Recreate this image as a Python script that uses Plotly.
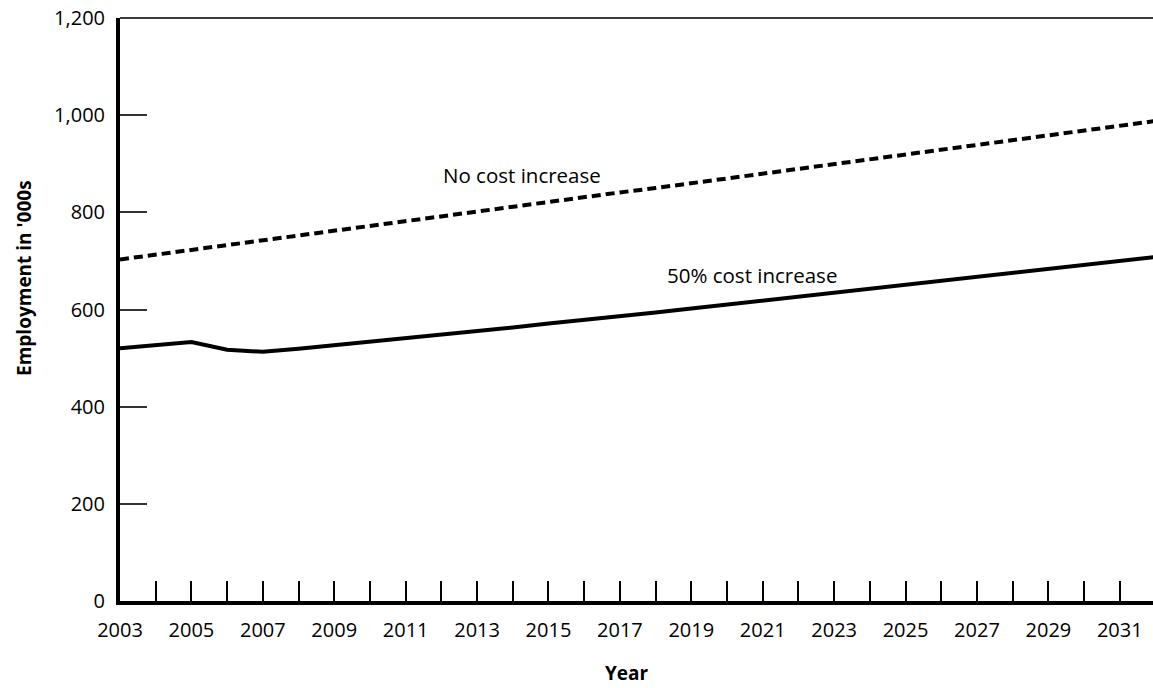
import plotly.graph_objects as go

years = list(range(2003, 2033))
no_cost_increase = [703, 713, 723, 732, 742, 752, 762, 772, 782, 791,
                    801, 811, 821, 831, 841, 850, 860, 870, 880, 890,
                    900, 909, 919, 929, 939, 949, 959, 968, 978, 988]
cost_increase_50 = [520, 527, 533, 517, 513, 519, 526, 533, 540, 548,
                    555, 563, 571, 578, 586, 594, 602, 610, 618, 626,
                    634, 642, 650, 658, 666, 675, 683, 691, 699, 708]

x_tick_vals = list(range(2003, 2032))
x_tick_text = [str(y) if (y - 2003) % 2 == 0 else "" for y in x_tick_vals]
y_tick_vals = [0, 200, 400, 600, 800, 1000, 1200]

FONT = "Open Sans"

fig = go.Figure()
fig.add_trace(go.Scatter(x=years, y=no_cost_increase, mode="lines",
                         line=dict(color="black", width=4, dash="9px,5px"),
                         name="No cost increase", showlegend=False))
fig.add_trace(go.Scatter(x=years, y=cost_increase_50, mode="lines",
                         line=dict(color="black", width=4),
                         name="50% cost increase", showlegend=False))

fig.add_annotation(x=2012, y=877, text="No cost increase", showarrow=False,
                   xanchor="left", yanchor="middle",
                   font=dict(family=FONT, size=20.5, color="black"))
fig.add_annotation(x=2018.27, y=671, text="50% cost increase", showarrow=False,
                   xanchor="left", yanchor="middle",
                   font=dict(family=FONT, size=20.5, color="black"))

# axis titles
fig.add_annotation(xref="paper", yref="paper", x=-0.093, y=0.554,
                   text="<b>Employment in '000s</b>", textangle=-90,
                   showarrow=False, xanchor="center", yanchor="middle",
                   font=dict(family=FONT, size=19, color="black"))
fig.add_annotation(xref="paper", yref="paper", x=0.491, y=-0.1235,
                   text="<b>Year</b>", showarrow=False, borderpad=0,
                   xanchor="center", yanchor="middle",
                   font=dict(family=FONT, size=19, color="black"))

fig.add_shape(type="line", xref="paper", yref="paper", x0=0, x1=1, y0=1, y1=1,
              line=dict(color="#3a3a3a", width=2))

fig.update_layout(
    width=1153, height=688,
    margin=dict(l=120, r=0, t=18, b=87),
    paper_bgcolor="white", plot_bgcolor="white",
    font=dict(family=FONT, size=20, color="black"),
    xaxis=dict(range=[2003, 2031.93], tickmode="array", tickvals=x_tick_vals,
               ticktext=x_tick_text, ticks="inside", ticklen=20, tickwidth=1.5,
               tickcolor="black", showline=True, linewidth=4, linecolor="black",
               showgrid=False, zeroline=False, ticklabelstandoff=8),
    yaxis=dict(range=[0, 1200], tickmode="array", tickvals=y_tick_vals,
               tickformat=",d", ticks="inside", ticklen=27, tickwidth=1.5,
               tickcolor="#333333", showline=True, linewidth=4, linecolor="black",
               showgrid=False, zeroline=False, ticklabelstandoff=7),
)

fig.write_html("out.html", config={"displayModeBar": False},
               post_script="document.body.style.margin='0';document.body.style.overflow='hidden';")
